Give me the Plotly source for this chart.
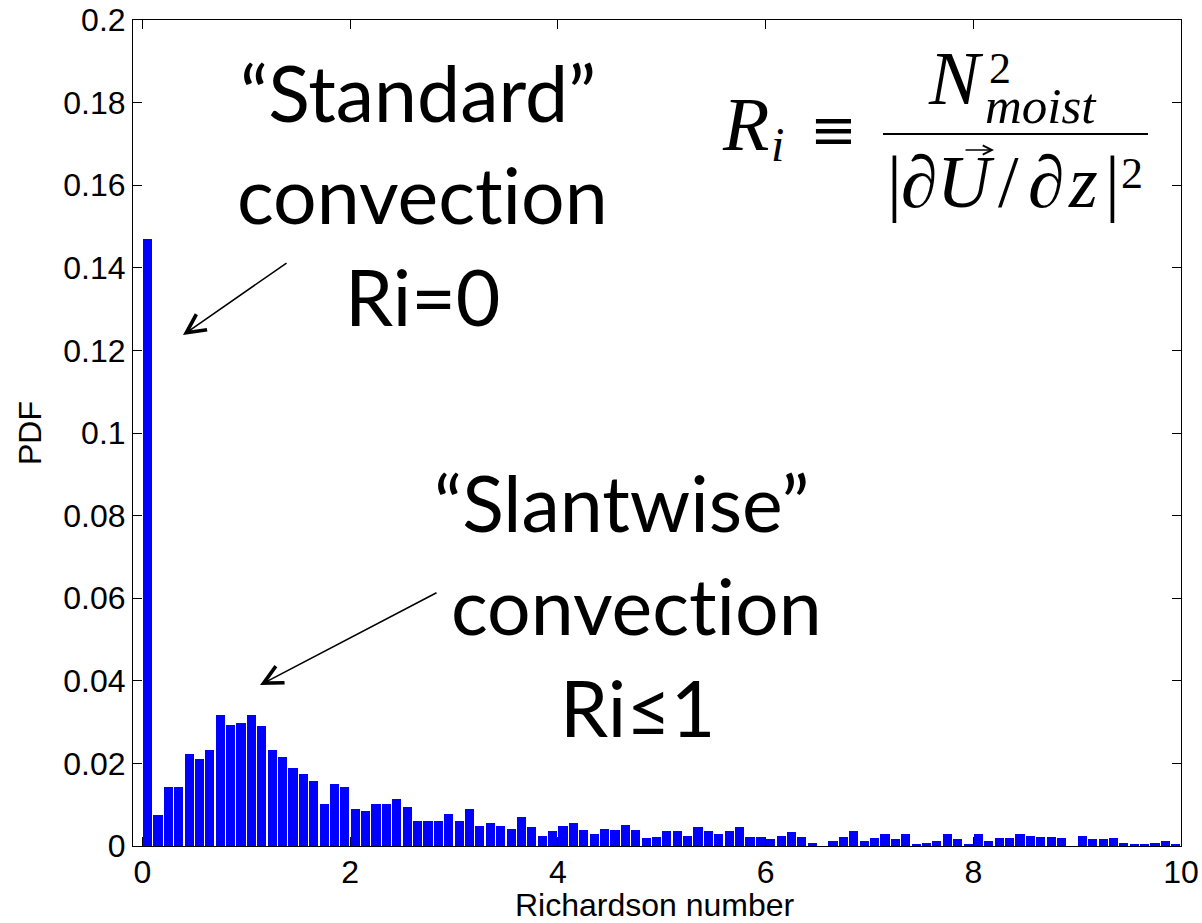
import plotly.graph_objects as go

# ---------------- data ----------------
bin_centers = [
    0.05, 0.15, 0.25, 0.35, 0.45, 0.55, 0.65, 0.75, 0.85, 0.95,
    1.05, 1.15, 1.25, 1.35, 1.45, 1.55, 1.65, 1.75, 1.85, 1.95,
    2.05, 2.15, 2.25, 2.35, 2.45, 2.55, 2.65, 2.75, 2.85, 2.95,
    3.05, 3.15, 3.25, 3.35, 3.45, 3.55, 3.65, 3.75, 3.85, 3.95,
    4.05, 4.15, 4.25, 4.35, 4.45, 4.55, 4.65, 4.75, 4.85, 4.95,
    5.05, 5.15, 5.25, 5.35, 5.45, 5.55, 5.65, 5.75, 5.85, 5.95,
    6.05, 6.15, 6.25, 6.35, 6.45, 6.55, 6.65, 6.75, 6.85, 6.95,
    7.05, 7.15, 7.25, 7.35, 7.45, 7.55, 7.65, 7.75, 7.85, 7.95,
    8.05, 8.15, 8.25, 8.35, 8.45, 8.55, 8.65, 8.75, 8.85, 8.95,
    9.05, 9.15, 9.25, 9.35, 9.45, 9.55, 9.65, 9.75, 9.85, 9.95,
]
pdf_values = [
    0.1470, 0.0076, 0.0144, 0.0144, 0.0223, 0.0210, 0.0233, 0.0318, 0.0294, 0.0299,
    0.0318, 0.0290, 0.0233, 0.0215, 0.0188, 0.0174, 0.0158, 0.0101, 0.0149, 0.0144,
    0.0090, 0.0084, 0.0101, 0.0101, 0.0114, 0.0095, 0.0060, 0.0060, 0.0060, 0.0077,
    0.0060, 0.0090, 0.0049, 0.0055, 0.0049, 0.0040, 0.0070, 0.0046, 0.0025, 0.0036,
    0.0049, 0.0055, 0.0038, 0.0030, 0.0040, 0.0038, 0.0052, 0.0038, 0.0019, 0.0022,
    0.0036, 0.0036, 0.0025, 0.0046, 0.0036, 0.0030, 0.0036, 0.0046, 0.0022, 0.0022,
    0.0016, 0.0025, 0.0033, 0.0022, 0.0008, 0.0000, 0.0011, 0.0022, 0.0036, 0.0011,
    0.0019, 0.0030, 0.0016, 0.0030, 0.0005, 0.0008, 0.0011, 0.0030, 0.0016, 0.0005,
    0.0030, 0.0011, 0.0019, 0.0019, 0.0030, 0.0025, 0.0022, 0.0022, 0.0019, 0.0000,
    0.0025, 0.0016, 0.0016, 0.0019, 0.0008, 0.0005, 0.0005, 0.0008, 0.0011, 0.0005,
]
x_tick_vals = [0, 2, 4, 6, 8, 10]
x_tick_text = ["0", "2", "4", "6", "8", "10"]
y_tick_vals = [0, 0.02, 0.04, 0.06, 0.08, 0.1, 0.12, 0.14, 0.16, 0.18, 0.2]
y_tick_text = ["0", "0.02", "0.04", "0.06", "0.08", "0.1", "0.12", "0.14", "0.16", "0.18", "0.2"]
x_title = "Richardson number"
y_title = "PDF"

# ---------------- layout geometry ----------------
W, H = 1202, 923
ML, MR, MT, MB = 133, 21, 20, 77
PX0, PX1 = ML, W - MR
PY0, PY1 = MT, H - MB


def px(x):
    return (x - PX0) / (PX1 - PX0)


def py(y):
    return (PY1 - y) / (PY1 - PY0)


fig = go.Figure()
fig.add_trace(go.Bar(
    x=bin_centers, y=pdf_values,
    marker=dict(color="#0000ff", line=dict(width=0)),
    width=0.088,
    showlegend=False,
))

sans = "Liberation Sans, Arial, sans-serif"
axis_font = dict(family=sans, size=32, color="black")
fig.update_layout(
    width=W, height=H,
    margin=dict(l=ML, r=MR, t=MT, b=MB, pad=0, autoexpand=False),
    paper_bgcolor="white", plot_bgcolor="white",
    bargap=0,
    xaxis=dict(
        range=[-0.09, 10], tickvals=x_tick_vals, ticktext=x_tick_text,
        ticks="inside", ticklen=9, tickwidth=1, tickcolor="black",
        showline=True, linecolor="black", linewidth=1, mirror="ticks",
        showgrid=False, zeroline=False, tickfont=axis_font,
        ticklabelstandoff=-2,
        automargin=False,
    ),
    yaxis=dict(
        range=[0, 0.2], tickvals=y_tick_vals, ticktext=y_tick_text,
        ticks="inside", ticklen=9, tickwidth=1, tickcolor="black",
        showline=True, linecolor="black", linewidth=1, mirror="ticks",
        showgrid=False, zeroline=False, tickfont=axis_font,
        automargin=False,
        title=dict(text=y_title, font=dict(family=sans, size=32, color="black"), standoff=12),
    ),
)

# x-axis title (placed as an annotation so it can sit at the very bottom like the original)
fig.add_annotation(text=x_title, x=px(655), y=py(885), xref="paper", yref="paper",
                   xanchor="center", yanchor="top", showarrow=False,
                   font=dict(family=sans, size=32, color="black"))

ann_font = dict(family="Lato, Open Sans, sans-serif", size=77, color="black")
ZWNJ = "\u200c"  # keeps "t" and "i" as separate glyphs
text_lines = [
    ("\u201cStandard\u201d", 418, 92),
    ("convect" + ZWNJ + "ion", 422, 194),
    ("Ri=0", 423, 296),
    ("\u201cSlantwise\u201d", 622, 502),
    ("convect" + ZWNJ + "ion", 636, 605),
    ("Ri\u22641", 638, 707),
]
for txt, cx, cy in text_lines:
    fig.add_annotation(text=txt, x=px(cx), y=py(cy), xref="paper", yref="paper",
                       xanchor="center", yanchor="middle", showarrow=False, font=ann_font)

# arrows (tip, tail) in pixel coordinates
arrows = [((183, 335), (288, 262)), ((260, 685), (438, 592))]
for (tx, ty), (sx, sy) in arrows:
    fig.add_annotation(text="", x=px(tx), y=py(ty), xref="paper", yref="paper",
                       ax=sx - tx, ay=sy - ty, axref="pixel", ayref="pixel",
                       showarrow=True, arrowhead=5, arrowsize=2.3, arrowwidth=1.6,
                       arrowcolor="black", standoff=0)

# formula  R_i = N^2_moist / |dU/dz|^2  (pieces placed by their centres)
serif = "Liberation Serif, Times New Roman, serif"
dserif = "DejaVu Serif, serif"
formula = [
    ("<i>R</i>", 745, 124, 76, serif),
    ("<i>i</i>", 777, 144, 48, serif),
    ("\u2261", 833, 130, 56, dserif),
    ("<i>N</i>", 956, 78, 76, serif),
    ("2", 1000, 68, 44, serif),
    ("<i>moist</i>", 1041, 106, 51, serif),
    ("|", 894, 182, 74, serif),
    ("\u2202", 919, 182, 74, serif),
    ("<i>U</i>", 966, 182, 74, serif),
    ("/", 1008, 182, 74, serif),
    ("\u2202", 1046, 182, 74, serif),
    ("<i>z</i>", 1083, 182, 74, serif),
    ("|", 1112, 182, 74, serif),
    ("2", 1132, 174, 44, serif),
]
for txt, xc, yc, size, fam in formula:
    fig.add_annotation(text=txt, x=px(xc), y=py(yc), xref="paper", yref="paper",
                       xanchor="center", yanchor="middle", showarrow=False,
                       font=dict(family=fam, size=size, color="black"))
# vector arrow over U
fig.add_annotation(text="", x=px(994), y=py(150), xref="paper", yref="paper",
                   ax=-30, ay=0, axref="pixel", ayref="pixel",
                   showarrow=True, arrowhead=5, arrowsize=1.3, arrowwidth=1.4,
                   arrowcolor="black", standoff=0)
fig.add_shape(type="line", xref="paper", yref="paper",
              x0=px(883), x1=px(1148), y0=py(134), y1=py(134),
              line=dict(color="black", width=2))

fig.write_html("out.html")
